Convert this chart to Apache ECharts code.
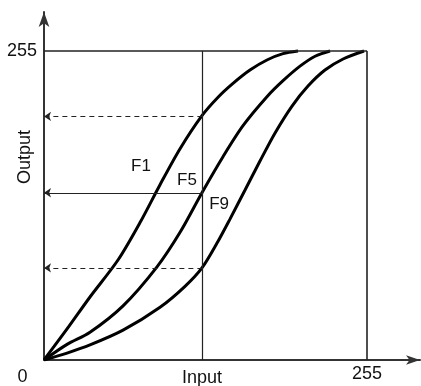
<!DOCTYPE html>
<html>
<head>
<meta charset="utf-8">
<script src="https://cdn.jsdelivr.net/npm/echarts@6/dist/echarts.min.js"></script>
<style>
html,body{margin:0;padding:0;background:#fff;}
#chart{width:421px;height:386px;}
</style>
</head>
<body>
<div id="chart"></div>
<script>
// ---- data ----
const curveNames = ['F1', 'F5', 'F9'];
const f1 = [[0,0],[18.2,25.6],[36.3,52],[58.4,82.5],[75.8,113.4],[91.6,144.7],[107.4,174.4],[124.7,201.7],[137.4,216.9],[149.2,228.3],[162.6,239.3],[176,247.6],[188.7,252.8],[200.5,255]];
const f5 = [[0,0],[18.2,12.9],[36.3,22.9],[62.4,44.7],[89.2,76.9],[107.4,105.4],[124.7,138.1],[141.3,167.8],[157.1,193.4],[176,217.3],[188.7,230.5],[202.1,242.5],[214,250.7],[225.8,255]];
const f9 = [[0,0],[18.2,5.7],[36.3,12.4],[62.4,24.6],[91.6,43.5],[111.3,60.8],[124.7,76],[136.6,96.5],[146.8,116.3],[158.7,140.3],[170.5,164.2],[182.4,187.4],[195.8,209.6],[208.4,226.1],[221.8,239.3],[236.1,248.4],[252.6,255]];
const curveLabelPos = [[76.6,159.7],[112.9,148.5],[138.2,128.7]];
const fullScale = 255;
const inputMarker = 125;
const outputLevels = [201, 138, 76];
const outputLevelDashed = [true, false, true];
const axisExtentX = 296.8;
const axisExtentY = 287.2;

const chart = echarts.init(document.getElementById('chart'), null, {renderer: 'canvas'});
const FONT = '"Liberation Sans", Arial, Helvetica, sans-serif';
const INK = '#111';

const curves = [f1, f5, f9];
const series = curves.map((d, i) => ({
  type: 'line',
  name: curveNames[i],
  data: d,
  smooth: 0.3,
  showSymbol: false,
  silent: true,
  lineStyle: {color: '#000', width: 3},
  markPoint: {
    silent: true,
    symbol: 'circle',
    symbolSize: 0,
    itemStyle: {color: 'rgba(0,0,0,0)'},
    label: {show: true, position: 'inside', formatter: curveNames[i], color: INK, fontSize: 17, fontFamily: FONT},
    data: [{coord: curveLabelPos[i]}]
  }
}));

const guideLines = [
  [{coord: [0, fullScale]}, {coord: [fullScale, fullScale]}],
  [{coord: [fullScale, 0]}, {coord: [fullScale, fullScale]}],
  [{coord: [inputMarker, 0], lineStyle: {width: 1.2}}, {coord: [inputMarker, fullScale]}]
];
const arrowLines = outputLevels.map((v, i) => [
  {coord: [inputMarker, v], lineStyle: {type: outputLevelDashed[i] ? [5, 4] : 'solid', width: 1.2}},
  {coord: [0, v]}
]);

series.push({
  type: 'line',
  data: [],
  silent: true,
  markLine: {
    silent: true,
    symbol: ['none', 'none'],
    label: {show: false},
    lineStyle: {color: '#222', width: 1.6, type: 'solid'},
    data: guideLines
  }
});
series.push({
  type: 'line',
  data: [],
  silent: true,
  markLine: {
    silent: true,
    symbol: ['none', 'arrow'],
    symbolSize: 7,
    label: {show: false},
    lineStyle: {color: '#222', width: 1.2},
    data: arrowLines
  }
});

chart.setOption({
  animation: false,
  backgroundColor: '#fff',
  grid: {left: 44, right: 1, top: 12, bottom: 26, containLabel: false},
  xAxis: {
    type: 'value', min: 0, max: axisExtentX, interval: fullScale,
    axisLine: {show: true, symbol: ['none', 'arrow'], symbolSize: [7, 14], lineStyle: {color: '#333', width: 2}},
    axisTick: {show: false},
    splitLine: {show: false},
    axisLabel: {showMinLabel: false, showMaxLabel: false, color: INK, fontSize: 18, fontFamily: FONT, margin: 5}
  },
  yAxis: {
    type: 'value', min: 0, max: axisExtentY, interval: fullScale,
    axisLine: {show: true, symbol: ['none', 'arrow'], symbolSize: [8, 15], lineStyle: {color: '#333', width: 2}},
    axisTick: {show: false},
    splitLine: {show: false},
    axisLabel: {showMinLabel: false, showMaxLabel: false, color: INK, fontSize: 18, fontFamily: FONT, margin: 7}
  },
  graphic: [
    {type: 'text', x: 22.5, y: 377, style: {text: '0', fill: INK, font: '18px ' + FONT, align: 'center', verticalAlign: 'middle'}},
    {type: 'text', x: 202, y: 378, style: {text: 'Input', fill: INK, font: '18px ' + FONT, align: 'center', verticalAlign: 'middle'}},
    {type: 'text', x: 25.5, y: 157, rotation: Math.PI / 2, style: {text: 'Output', fill: INK, font: '18px ' + FONT, align: 'center', verticalAlign: 'middle'}}
  ],
  series: series
});
</script>
</body>
</html>
